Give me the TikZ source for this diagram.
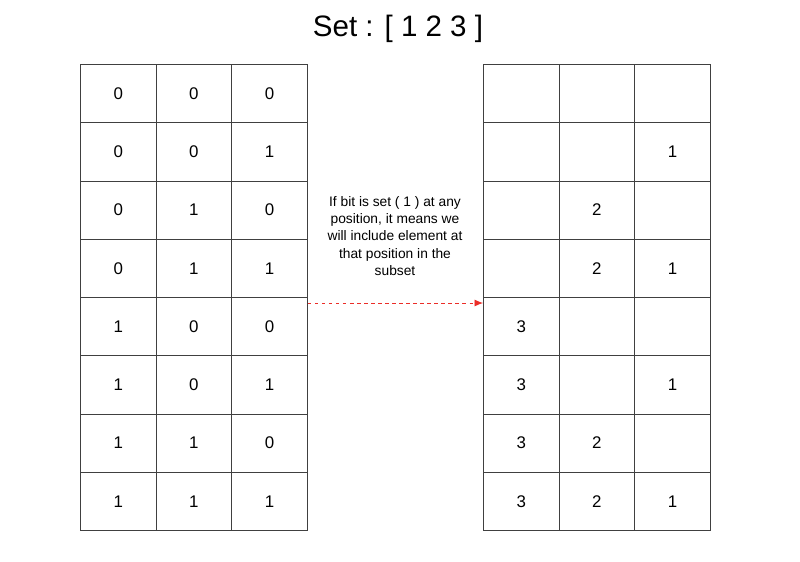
\documentclass[tikz,border=0pt]{standalone}
\usepackage{fontspec}
\setmainfont{Liberation Sans}
\usetikzlibrary{arrows.meta,positioning}
\definecolor{arrowred}{RGB}{235,45,40}
\tikzset{
  cell/.style={draw=black!75, line width=0.5pt, minimum width=75.7\unitpx, minimum height=58.25\unitpx, inner sep=0pt, anchor=north west, font=\fontsize{12}{14}\selectfont},
  note/.style={align=center, font=\fontsize{9.8}{12.2}\selectfont},
}
\newlength{\unitpx}
\setlength{\unitpx}{0.025cm}
\begin{document}
\begin{tikzpicture}[x=0.025cm, y=-0.025cm]
\useasboundingbox (0,0) rectangle (800,561);
\node[font=\fontsize{21}{24}\selectfont] (title) at (398,29) {Set : [ 1 2 3 ]};
% left table: bits
\foreach \r in {0,...,7} {
  \pgfmathtruncatemacro{\ba}{div(\r,4)}
  \pgfmathtruncatemacro{\bb}{mod(div(\r,2),2)}
  \pgfmathtruncatemacro{\bc}{mod(\r,2)}
  \node[cell] (l-\r-1) at (80+0*75.7, 64+\r*58.25) {\ba};
  \node[cell] (l-\r-2) at (80+1*75.7, 64+\r*58.25) {\bb};
  \node[cell] (l-\r-3) at (80+2*75.7, 64+\r*58.25) {\bc};
}
% right table: subsets
\foreach \r in {0,...,7} {
  \pgfmathtruncatemacro{\ba}{div(\r,4)}
  \pgfmathtruncatemacro{\bb}{mod(div(\r,2),2)}
  \pgfmathtruncatemacro{\bc}{mod(\r,2)}
  \node[cell] (r-\r-1) at (483+0*75.7, 64+\r*58.25) {\ifnum\ba=1 3\fi};
  \node[cell] (r-\r-2) at (483+1*75.7, 64+\r*58.25) {\ifnum\bb=1 2\fi};
  \node[cell] (r-\r-3) at (483+2*75.7, 64+\r*58.25) {\ifnum\bc=1 1\fi};
}
\node[note] (rule) at (395,236) {If bit is set ( 1 ) at any\\ position, it means we\\ will include element at\\ that position in the\\ subset};
\coordinate (from) at ([yshift=-6\unitpx]l-4-3.north east);
\coordinate (to) at ([yshift=-6\unitpx]r-4-1.north west);
\draw[arrowred, line width=0.6pt, dash pattern=on 2.5pt off 2.5pt, -{Latex[length=6pt,width=5pt]}] (from) -- (to);
\end{tikzpicture}
\end{document}
